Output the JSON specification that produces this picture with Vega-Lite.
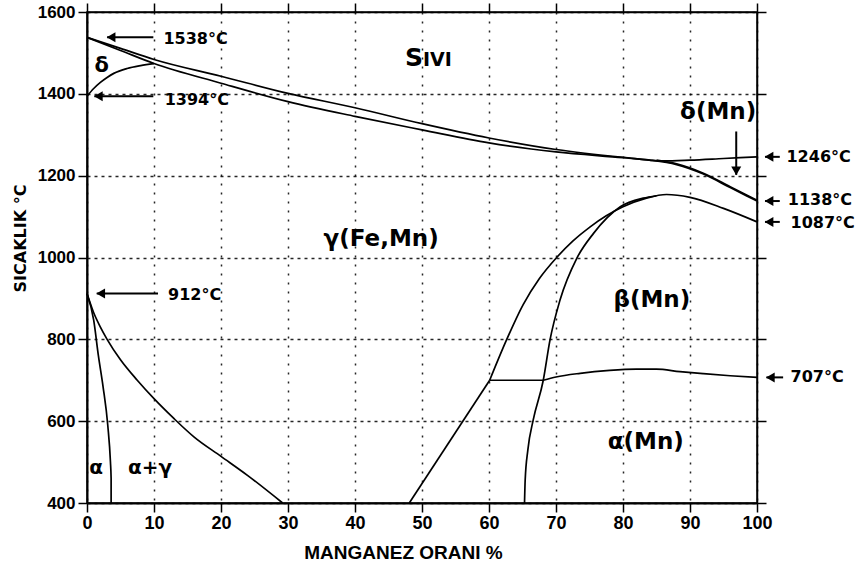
{
  "$schema": "https://vega.github.io/schema/vega-lite/v6.json",
  "width": 670,
  "height": 491,
  "autosize": {"type": "none"},
  "padding": {"left": 87, "top": 12, "right": 105, "bottom": 65},
  "background": "white",
  "config": {
    "view": {"stroke": "#000", "strokeWidth": 1.5},
    "text": {"font": "DejaVu Sans", "fontWeight": "bold", "color": "#000"}
  },
  "datasets": {
    "curves": [
      {"seg": "liquidus", "x": 0, "y": 1538}, {"seg": "liquidus", "x": 5, "y": 1511}, {"seg": "liquidus", "x": 10, "y": 1484},
      {"seg": "liquidus", "x": 20, "y": 1443}, {"seg": "liquidus", "x": 30, "y": 1401}, {"seg": "liquidus", "x": 40, "y": 1366},
      {"seg": "liquidus", "x": 50, "y": 1327}, {"seg": "liquidus", "x": 60, "y": 1292}, {"seg": "liquidus", "x": 70, "y": 1264},
      {"seg": "liquidus", "x": 80, "y": 1245}, {"seg": "liquidus", "x": 86, "y": 1236}, {"seg": "liquidus", "x": 90, "y": 1238},
      {"seg": "liquidus", "x": 95, "y": 1242}, {"seg": "liquidus", "x": 100, "y": 1246},

      {"seg": "solidus", "x": 0, "y": 1538}, {"seg": "solidus", "x": 5, "y": 1506}, {"seg": "solidus", "x": 10, "y": 1474},
      {"seg": "solidus", "x": 20, "y": 1426}, {"seg": "solidus", "x": 30, "y": 1381}, {"seg": "solidus", "x": 40, "y": 1345},
      {"seg": "solidus", "x": 50, "y": 1312}, {"seg": "solidus", "x": 60, "y": 1280}, {"seg": "solidus", "x": 70, "y": 1258},
      {"seg": "solidus", "x": 80, "y": 1244}, {"seg": "solidus", "x": 84, "y": 1238}, {"seg": "solidus", "x": 88, "y": 1227},
      {"seg": "solidus", "x": 92, "y": 1204}, {"seg": "solidus", "x": 96, "y": 1171}, {"seg": "solidus", "x": 100, "y": 1138},

      {"seg": "deltaMn", "x": 85, "y": 1238}, {"seg": "deltaMn", "x": 88, "y": 1229}, {"seg": "deltaMn", "x": 92, "y": 1206},
      {"seg": "deltaMn", "x": 96, "y": 1173}, {"seg": "deltaMn", "x": 100, "y": 1140},

      {"seg": "deltaFe", "x": 0, "y": 1394}, {"seg": "deltaFe", "x": 1, "y": 1413}, {"seg": "deltaFe", "x": 2, "y": 1428},
      {"seg": "deltaFe", "x": 3, "y": 1440}, {"seg": "deltaFe", "x": 4, "y": 1450}, {"seg": "deltaFe", "x": 6, "y": 1462},
      {"seg": "deltaFe", "x": 8, "y": 1469}, {"seg": "deltaFe", "x": 10, "y": 1474},

      {"seg": "alphaIn", "x": 0, "y": 912}, {"seg": "alphaIn", "x": 1, "y": 847}, {"seg": "alphaIn", "x": 1.7, "y": 760},
      {"seg": "alphaIn", "x": 2.4, "y": 684}, {"seg": "alphaIn", "x": 3.1, "y": 590}, {"seg": "alphaIn", "x": 3.5, "y": 500},
      {"seg": "alphaIn", "x": 3.6, "y": 460}, {"seg": "alphaIn", "x": 3.6, "y": 400},

      {"seg": "alphaOut", "x": 0, "y": 912}, {"seg": "alphaOut", "x": 1, "y": 865}, {"seg": "alphaOut", "x": 2, "y": 830},
      {"seg": "alphaOut", "x": 3, "y": 800}, {"seg": "alphaOut", "x": 5, "y": 750}, {"seg": "alphaOut", "x": 7.5, "y": 700},
      {"seg": "alphaOut", "x": 10, "y": 655}, {"seg": "alphaOut", "x": 13, "y": 606}, {"seg": "alphaOut", "x": 16, "y": 561},
      {"seg": "alphaOut", "x": 20, "y": 514}, {"seg": "alphaOut", "x": 24, "y": 467}, {"seg": "alphaOut", "x": 29.2, "y": 400},

      {"seg": "gammaLow", "x": 48.1, "y": 400}, {"seg": "gammaLow", "x": 60.1, "y": 700},

      {"seg": "gammaOut", "x": 60.1, "y": 700}, {"seg": "gammaOut", "x": 62.6, "y": 798},
      {"seg": "gammaOut", "x": 65.1, "y": 885}, {"seg": "gammaOut", "x": 67.5, "y": 948}, {"seg": "gammaOut", "x": 70.1, "y": 1000},
      {"seg": "gammaOut", "x": 72.5, "y": 1040}, {"seg": "gammaOut", "x": 75.1, "y": 1075}, {"seg": "gammaOut", "x": 77.5, "y": 1102},
      {"seg": "gammaOut", "x": 80, "y": 1124}, {"seg": "gammaOut", "x": 83.5, "y": 1145}, {"seg": "gammaOut", "x": 86.5, "y": 1154},
      {"seg": "gammaOut", "x": 90, "y": 1147}, {"seg": "gammaOut", "x": 95, "y": 1120}, {"seg": "gammaOut", "x": 100, "y": 1087},

      {"seg": "gammaIn", "x": 65.3, "y": 400}, {"seg": "gammaIn", "x": 65.4, "y": 456}, {"seg": "gammaIn", "x": 65.8, "y": 530},
      {"seg": "gammaIn", "x": 66.6, "y": 603}, {"seg": "gammaIn", "x": 68.1, "y": 700}, {"seg": "gammaIn", "x": 69.1, "y": 798},
      {"seg": "gammaIn", "x": 70.6, "y": 896}, {"seg": "gammaIn", "x": 73.1, "y": 998}, {"seg": "gammaIn", "x": 75.6, "y": 1059},
      {"seg": "gammaIn", "x": 79.6, "y": 1124}, {"seg": "gammaIn", "x": 83, "y": 1145}, {"seg": "gammaIn", "x": 85, "y": 1151},

      {"seg": "eutectoid", "x": 60.1, "y": 700}, {"seg": "eutectoid", "x": 68.1, "y": 700},

      {"seg": "alphaBeta", "x": 68.1, "y": 700}, {"seg": "alphaBeta", "x": 70, "y": 708}, {"seg": "alphaBeta", "x": 73.6, "y": 717},
      {"seg": "alphaBeta", "x": 78, "y": 724}, {"seg": "alphaBeta", "x": 82, "y": 727}, {"seg": "alphaBeta", "x": 85, "y": 727},
      {"seg": "alphaBeta", "x": 88.5, "y": 721}, {"seg": "alphaBeta", "x": 92, "y": 716}, {"seg": "alphaBeta", "x": 96, "y": 711},
      {"seg": "alphaBeta", "x": 100, "y": 707}
    ],
    "leftArrows": [
      {"x": 9.9, "y": 1538, "x2": 3.0, "y2": 1538},
      {"x": 9.9, "y": 1394, "x2": 1.1, "y2": 1394},
      {"x": 10.6, "y": 912, "x2": 1.45, "y2": 912},
      {"x": 103.4, "y": 1246, "x2": 101.2, "y2": 1246},
      {"x": 103.4, "y": 1138, "x2": 101.2, "y2": 1138},
      {"x": 103.4, "y": 1087, "x2": 101.2, "y2": 1087},
      {"x": 103.9, "y": 707, "x2": 101.4, "y2": 707}
    ],
    "downArrow": [
      {"x": 96.9, "y": 1308, "x2": 96.9, "y2": 1202}
    ],
    "temps": [
      {"t": "1538°C", "x": 11.4, "y": 1535},
      {"t": "1394°C", "x": 11.6, "y": 1385},
      {"t": "912°C", "x": 12.1, "y": 908},
      {"t": "1246°C", "x": 104.4, "y": 1245},
      {"t": "1138°C", "x": 104.6, "y": 1140},
      {"t": "1087°C", "x": 105, "y": 1085},
      {"t": "707°C", "x": 105, "y": 707}
    ],
    "phasesLarge": [
      {"t": "γ(Fe,Mn)", "x": 43.9, "y": 1027},
      {"t": "β(Mn)", "x": 84.3, "y": 880},
      {"t": "α(Mn)", "x": 83.4, "y": 531},
      {"t": "δ(Mn)", "x": 94.2, "y": 1338}
    ],
    "phasesSmall": [
      {"t": "α", "x": 1.35, "y": 471},
      {"t": "α+γ", "x": 9.4, "y": 471}
    ],
    "deltaFeLabel": [{"t": "δ", "x": 2.2, "y": 1454}],
    "liquidInitial": [{"t": "S", "x": 50.15, "y": 1469}],
    "liquidRest": [{"t": "IVI", "x": 50.15, "y": 1469}]
  },
  "layer": [
    {
      "data": {"name": "curves"},
      "mark": {"type": "point", "opacity": 0},
      "encoding": {
        "x": {"field": "x", "type": "quantitative", "scale": {"domain": [0, 100], "nice": false, "zero": false},
          "axis": {"orient": "top", "values": [0, 10, 20, 30, 40, 50, 60, 70, 80, 90, 100], "labels": false, "grid": false, "title": null,
            "tickSize": 9, "tickWidth": 1.5, "tickColor": "#000", "domainColor": "#000", "domainWidth": 1.5}},
        "y": {"field": "y", "type": "quantitative", "scale": {"domain": [400, 1600], "nice": false, "zero": false},
          "axis": {"orient": "right", "values": [400, 600, 800, 1000, 1200, 1400, 1600], "labels": false, "grid": false, "title": null,
            "tickSize": 9, "tickWidth": 1.5, "tickColor": "#000", "domainColor": "#000", "domainWidth": 1.5}}
      }
    },
    {
      "data": {"name": "curves"},
      "mark": {"type": "line", "color": "#000", "strokeWidth": 1.7, "interpolate": "monotone"},
      "encoding": {
        "x": {"field": "x", "type": "quantitative", "scale": {"domain": [0, 100], "nice": false, "zero": false},
          "axis": {"orient": "bottom", "values": [0, 10, 20, 30, 40, 50, 60, 70, 80, 90, 100], "labelFlush": false, "format": "d",
            "grid": true, "gridDash": [2, 7], "gridColor": "#000", "gridWidth": 1.5, "gridOpacity": 0.85,
            "domainColor": "#000", "domainWidth": 2, "tickColor": "#000", "tickWidth": 1.5, "tickSize": 9,
            "labelFont": "Liberation Sans", "labelFontWeight": "bold", "labelFontSize": 18, "labelColor": "#000", "labelPadding": 2,
            "title": "MANGANEZ ORANI %", "titleFont": "Liberation Sans", "titleFontSize": 19, "titleFontWeight": "bold",
            "titleColor": "#000", "titleX": 316, "titleY": 55, "titleAlign": "center", "titleBaseline": "alphabetic"}},
        "y": {"field": "y", "type": "quantitative", "scale": {"domain": [400, 1600], "nice": false, "zero": false},
          "axis": {"orient": "left", "values": [400, 600, 800, 1000, 1200, 1400, 1600], "format": "d",
            "grid": true, "gridDash": [3, 4], "gridColor": "#000", "gridWidth": 1.5, "gridOpacity": 0.85,
            "domainColor": "#000", "domainWidth": 2, "tickColor": "#000", "tickWidth": 1.5, "tickSize": 9,
            "labelFont": "Liberation Sans", "labelFontWeight": "bold", "labelFontSize": 17, "labelColor": "#000", "labelPadding": 3,
            "title": "SICAKLIK °C", "titleFont": "DejaVu Sans", "titleFontSize": 16, "titleFontWeight": "bold", "titleColor": "#000",
            "titleX": -67, "titleY": 226, "titleAngle": -90, "titleAlign": "center", "titleBaseline": "middle"}},
        "detail": {"field": "seg"},
        "order": {"value": null}
      }
    },
    {
      "data": {"name": "leftArrows"},
      "mark": {"type": "rule", "color": "#000", "strokeWidth": 2},
      "encoding": {
        "x": {"field": "x", "type": "quantitative", "scale": {"domain": [0, 100]}, "axis": null},
        "x2": {"field": "x2"},
        "y": {"field": "y", "type": "quantitative", "scale": {"domain": [400, 1600]}, "axis": null},
        "y2": {"field": "y2"}
      }
    },
    {
      "data": {"name": "leftArrows"},
      "mark": {"type": "point", "shape": "triangle-left", "filled": true, "color": "#000", "opacity": 1, "size": 100, "xOffset": 4},
      "encoding": {
        "x": {"field": "x2", "type": "quantitative", "scale": {"domain": [0, 100]}, "axis": null},
        "y": {"field": "y2", "type": "quantitative", "scale": {"domain": [400, 1600]}, "axis": null}
      }
    },
    {
      "data": {"name": "downArrow"},
      "mark": {"type": "rule", "color": "#000", "strokeWidth": 2},
      "encoding": {
        "x": {"field": "x", "type": "quantitative", "scale": {"domain": [0, 100]}, "axis": null},
        "x2": {"field": "x2"},
        "y": {"field": "y", "type": "quantitative", "scale": {"domain": [400, 1600]}, "axis": null},
        "y2": {"field": "y2"}
      }
    },
    {
      "data": {"name": "downArrow"},
      "mark": {"type": "point", "shape": "triangle-down", "filled": true, "color": "#000", "opacity": 1, "size": 100, "yOffset": -4},
      "encoding": {
        "x": {"field": "x2", "type": "quantitative", "scale": {"domain": [0, 100]}, "axis": null},
        "y": {"field": "y2", "type": "quantitative", "scale": {"domain": [400, 1600]}, "axis": null}
      }
    },
    {
      "data": {"name": "temps"},
      "mark": {"type": "text", "fontSize": 16, "align": "left", "baseline": "middle"},
      "encoding": {
        "x": {"field": "x", "type": "quantitative", "scale": {"domain": [0, 100]}, "axis": null},
        "y": {"field": "y", "type": "quantitative", "scale": {"domain": [400, 1600]}, "axis": null},
        "text": {"field": "t"}
      }
    },
    {
      "data": {"name": "phasesLarge"},
      "mark": {"type": "text", "fontSize": 23, "align": "center", "baseline": "alphabetic"},
      "encoding": {
        "x": {"field": "x", "type": "quantitative", "scale": {"domain": [0, 100]}, "axis": null},
        "y": {"field": "y", "type": "quantitative", "scale": {"domain": [400, 1600]}, "axis": null},
        "text": {"field": "t"}
      }
    },
    {
      "data": {"name": "phasesSmall"},
      "mark": {"type": "text", "fontSize": 20, "align": "center", "baseline": "alphabetic"},
      "encoding": {
        "x": {"field": "x", "type": "quantitative", "scale": {"domain": [0, 100]}, "axis": null},
        "y": {"field": "y", "type": "quantitative", "scale": {"domain": [400, 1600]}, "axis": null},
        "text": {"field": "t"}
      }
    },
    {
      "data": {"name": "deltaFeLabel"},
      "mark": {"type": "text", "fontSize": 21, "align": "center", "baseline": "alphabetic"},
      "encoding": {
        "x": {"field": "x", "type": "quantitative", "scale": {"domain": [0, 100]}, "axis": null},
        "y": {"field": "y", "type": "quantitative", "scale": {"domain": [400, 1600]}, "axis": null},
        "text": {"field": "t"}
      }
    },
    {
      "data": {"name": "liquidInitial"},
      "mark": {"type": "text", "fontSize": 25, "align": "right", "baseline": "alphabetic"},
      "encoding": {
        "x": {"field": "x", "type": "quantitative", "scale": {"domain": [0, 100]}, "axis": null},
        "y": {"field": "y", "type": "quantitative", "scale": {"domain": [400, 1600]}, "axis": null},
        "text": {"field": "t"}
      }
    },
    {
      "data": {"name": "liquidRest"},
      "mark": {"type": "text", "fontSize": 19, "align": "left", "baseline": "alphabetic"},
      "encoding": {
        "x": {"field": "x", "type": "quantitative", "scale": {"domain": [0, 100]}, "axis": null},
        "y": {"field": "y", "type": "quantitative", "scale": {"domain": [400, 1600]}, "axis": null},
        "text": {"field": "t"}
      }
    }
  ],
  "resolve": {"axis": {"x": "independent", "y": "independent"}}
}
